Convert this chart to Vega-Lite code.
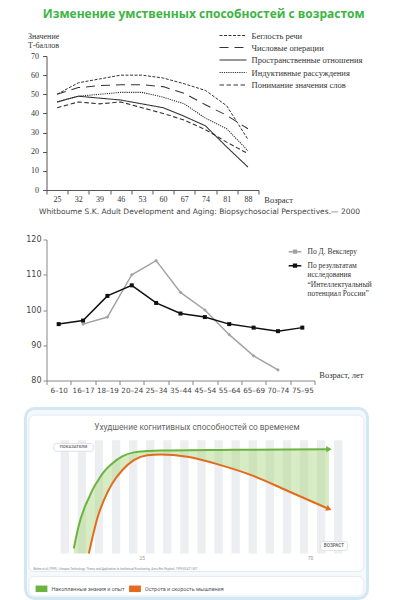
{
  "$schema": "https://vega.github.io/schema/vega-lite/v6.json",
  "padding": {"left": 23.5, "top": 8, "right": 0, "bottom": 0},
  "autosize": {"type": "pad"},
  "background": "white",
  "title": {"text": "Изменение умственных способностей с возрастом", "font": "Open Sans", "fontSize": 12, "fontWeight": "bold", "color": "#3db543", "anchor": "middle", "dx": 5.5, "offset": 9},
  "config": {"view": {"stroke": null}, "axis": {"grid": false}},
  "spacing": 12.5,
  "resolve": {"scale": {"color": "independent", "strokeDash": "independent", "strokeWidth": "independent"}, "legend": {"color": "independent", "strokeDash": "independent", "strokeWidth": "independent"}},
  "vconcat": [
    {
      "spacing": 19.5,
      "resolve": {"scale": {"color": "independent", "strokeDash": "independent", "strokeWidth": "independent"}, "legend": {"color": "independent", "strokeDash": "independent", "strokeWidth": "independent"}},
      "vconcat": [
        {
          "width": 212,
          "height": 134,
          "data": {"values": [
            {"age": "25", "series": "Беглость речи", "t": 50},
            {"age": "32", "series": "Беглость речи", "t": 56},
            {"age": "39", "series": "Беглость речи", "t": 58},
            {"age": "46", "series": "Беглость речи", "t": 60},
            {"age": "53", "series": "Беглость речи", "t": 60},
            {"age": "60", "series": "Беглость речи", "t": 58.5},
            {"age": "67", "series": "Беглость речи", "t": 55.5},
            {"age": "74", "series": "Беглость речи", "t": 52},
            {"age": "81", "series": "Беглость речи", "t": 44},
            {"age": "88", "series": "Беглость речи", "t": 26.5},
            {"age": "25", "series": "Числовые операции", "t": 50},
            {"age": "32", "series": "Числовые операции", "t": 53.5},
            {"age": "39", "series": "Числовые операции", "t": 54.5},
            {"age": "46", "series": "Числовые операции", "t": 55},
            {"age": "53", "series": "Числовые операции", "t": 55},
            {"age": "60", "series": "Числовые операции", "t": 54},
            {"age": "67", "series": "Числовые операции", "t": 50.5},
            {"age": "74", "series": "Числовые операции", "t": 44.5},
            {"age": "81", "series": "Числовые операции", "t": 39},
            {"age": "88", "series": "Числовые операции", "t": 32},
            {"age": "25", "series": "Пространственные отношения", "t": 46},
            {"age": "32", "series": "Пространственные отношения", "t": 49},
            {"age": "39", "series": "Пространственные отношения", "t": 48},
            {"age": "46", "series": "Пространственные отношения", "t": 47},
            {"age": "53", "series": "Пространственные отношения", "t": 45},
            {"age": "60", "series": "Пространственные отношения", "t": 43},
            {"age": "67", "series": "Пространственные отношения", "t": 38.5},
            {"age": "74", "series": "Пространственные отношения", "t": 33.5},
            {"age": "81", "series": "Пространственные отношения", "t": 22.5},
            {"age": "88", "series": "Пространственные отношения", "t": 12},
            {"age": "25", "series": "Индуктивные рассуждения", "t": 46},
            {"age": "32", "series": "Индуктивные рассуждения", "t": 49},
            {"age": "39", "series": "Индуктивные рассуждения", "t": 50},
            {"age": "46", "series": "Индуктивные рассуждения", "t": 51},
            {"age": "53", "series": "Индуктивные рассуждения", "t": 51},
            {"age": "60", "series": "Индуктивные рассуждения", "t": 48.5},
            {"age": "67", "series": "Индуктивные рассуждения", "t": 45},
            {"age": "74", "series": "Индуктивные рассуждения", "t": 37.5},
            {"age": "81", "series": "Индуктивные рассуждения", "t": 32},
            {"age": "88", "series": "Индуктивные рассуждения", "t": 20.5},
            {"age": "25", "series": "Понимание значения слов", "t": 43},
            {"age": "32", "series": "Понимание значения слов", "t": 46},
            {"age": "39", "series": "Понимание значения слов", "t": 45},
            {"age": "46", "series": "Понимание значения слов", "t": 46},
            {"age": "53", "series": "Понимание значения слов", "t": 43},
            {"age": "60", "series": "Понимание значения слов", "t": 40},
            {"age": "67", "series": "Понимание значения слов", "t": 36.5},
            {"age": "74", "series": "Понимание значения слов", "t": 31.5},
            {"age": "81", "series": "Понимание значения слов", "t": 25},
            {"age": "88", "series": "Понимание значения слов", "t": 19}
          ]},
          "title": {"text": "Whitboume S.K. Adult Development and Aging: Biopsychosocial Perspectives.— 2000", "orient": "bottom", "anchor": "middle", "frame": "group", "dx": 47, "offset": 4, "font": "DejaVu Sans", "fontSize": 7.5, "fontWeight": "normal", "color": "#444"},
          "mark": {"type": "line", "color": "#333"},
          "encoding": {
            "x": {"field": "age", "type": "ordinal", "bandPosition": 0.5,
              "scale": {"type": "band", "domain": ["25","32","39","46","53","60","67","74","81","88"], "paddingInner": 0, "paddingOuter": 0},
              "axis": {"title": "Возраст", "titleX": 217.3, "titleY": 9.3, "titleAlign": "left", "titleBaseline": "middle", "titleFont": "Liberation Serif", "titleFontSize": 8.5, "titleFontWeight": "normal", "titleColor": "#333", "labelAngle": 0, "tickBand": "extent", "domainColor": "#555", "tickColor": "#555", "tickSize": 4, "labelFont": "Liberation Serif", "labelFontSize": 8, "labelColor": "#333", "labelPadding": 1}},
            "y": {"field": "t", "type": "quantitative", "scale": {"domain": [0, 70]},
              "axis": {"title": ["Значение", "Т-баллов"], "titleAngle": 0, "titleAlign": "left", "titleBaseline": "top", "titleX": -19, "titleY": -24, "titleFont": "Liberation Serif", "titleFontSize": 8, "titleFontWeight": "normal", "titleColor": "#333", "titleLineHeight": 9.5, "values": [0,10,20,30,40,50,60,70], "tickSize": 4, "labelPadding": 4, "labelFont": "Liberation Serif", "labelFontSize": 8, "labelColor": "#333", "domainColor": "#555", "tickColor": "#555"}},
            "strokeDash": {"field": "series", "type": "nominal",
              "scale": {"domain": ["Беглость речи", "Числовые операции", "Пространственные отношения", "Индуктивные рассуждения", "Понимание значения слов"], "range": [[3,1.5],[9,6],[1,0],[1.2,1],[4.5,2.5]]},
              "legend": {"orient": "none", "legendX": 189, "legendY": -26, "title": null, "padding": 0, "symbolType": "M-4.4,0H1", "symbolSize": 100, "symbolStrokeColor": "#333", "symbolStrokeWidth": 1.2, "labelFont": "Liberation Serif", "labelFontSize": 8.5, "labelColor": "#333", "labelOffset": 4, "rowPadding": 1.5}},
            "strokeWidth": {"field": "series", "type": "nominal",
              "scale": {"domain": ["Беглость речи", "Числовые операции", "Пространственные отношения", "Индуктивные рассуждения", "Понимание значения слов"], "range": [1, 1.1, 1.1, 1.5, 1]}, "legend": null}
          }
        },
        {
          "width": 268,
          "height": 141,
          "data": {"values": [
            {"age": "16–17", "src": "По Д. Векслеру", "iq": 96},
            {"age": "18–19", "src": "По Д. Векслеру", "iq": 98},
            {"age": "20–24", "src": "По Д. Векслеру", "iq": 110},
            {"age": "25–34", "src": "По Д. Векслеру", "iq": 114},
            {"age": "35–44", "src": "По Д. Векслеру", "iq": 105},
            {"age": "45–54", "src": "По Д. Векслеру", "iq": 100},
            {"age": "55–64", "src": "По Д. Векслеру", "iq": 93},
            {"age": "65–69", "src": "По Д. Векслеру", "iq": 87},
            {"age": "70–74", "src": "По Д. Векслеру", "iq": 83},
            {"age": "6–10", "src": "По результатам исследования “Интеллектуальный потенциал России”", "iq": 96},
            {"age": "16–17", "src": "По результатам исследования “Интеллектуальный потенциал России”", "iq": 97},
            {"age": "18–19", "src": "По результатам исследования “Интеллектуальный потенциал России”", "iq": 104},
            {"age": "20–24", "src": "По результатам исследования “Интеллектуальный потенциал России”", "iq": 107},
            {"age": "25–34", "src": "По результатам исследования “Интеллектуальный потенциал России”", "iq": 102},
            {"age": "35–44", "src": "По результатам исследования “Интеллектуальный потенциал России”", "iq": 99},
            {"age": "45–54", "src": "По результатам исследования “Интеллектуальный потенциал России”", "iq": 98},
            {"age": "55–64", "src": "По результатам исследования “Интеллектуальный потенциал России”", "iq": 96},
            {"age": "65–69", "src": "По результатам исследования “Интеллектуальный потенциал России”", "iq": 95},
            {"age": "70–74", "src": "По результатам исследования “Интеллектуальный потенциал России”", "iq": 94},
            {"age": "75–95", "src": "По результатам исследования “Интеллектуальный потенциал России”", "iq": 95}
          ]},
          "encoding": {
            "x": {"field": "age", "type": "ordinal", "bandPosition": 0.5,
              "scale": {"type": "band", "domain": ["6–10","16–17","18–19","20–24","25–34","35–44","45–54","55–64","65–69","70–74","75–95"], "paddingInner": 0, "paddingOuter": 0},
              "axis": {"title": "Возраст, лет", "titleX": 272.3, "titleY": -5.7, "titleAlign": "left", "titleBaseline": "middle", "titleFont": "Liberation Serif", "titleFontSize": 8.5, "titleFontWeight": "normal", "titleColor": "#333", "labelAngle": 0, "tickBand": "extent", "labelFont": "DejaVu Sans", "labelFontSize": 7.2, "labelColor": "#444", "tickSize": 4, "labelPadding": 2, "domainColor": "#888", "tickColor": "#888"}},
            "y": {"field": "iq", "type": "quantitative", "scale": {"domain": [80, 120]},
              "axis": {"title": null, "values": [80,90,100,110,120], "tickSize": 3.5, "labelPadding": 2, "labelFont": "DejaVu Sans", "labelFontSize": 8, "labelColor": "#444", "domainColor": "#888", "tickColor": "#888"}},
            "color": {"field": "src", "type": "nominal",
              "scale": {"domain": ["По Д. Векслеру", "По результатам исследования “Интеллектуальный потенциал России”"], "range": ["#a3a3a3", "#111111"]},
              "legend": {"orient": "none", "legendX": 241, "legendY": 4.7, "title": null, "padding": 0, "symbolType": "M-1,0H1M-0.22,-0.22H0.22V0.22H-0.22Z", "symbolSize": 160, "symbolStrokeWidth": 1.5, "labelFont": "Liberation Serif", "labelFontSize": 7.5, "labelColor": "#333", "labelOffset": 5, "rowPadding": 2,
                "labelExpr": "indexof(datum.label, 'Векслер') >= 0 ? datum.label : ['По результатам', 'исследования', '“Интеллектуальный', 'потенциал России”']"}}
          },
          "layer": [
            {"mark": {"type": "line", "strokeWidth": 1.5}},
            {"transform": [{"filter": "indexof(datum.src, 'Векслер') >= 0"}],
             "mark": {"type": "point", "shape": "diamond", "filled": true, "opacity": 1, "size": 14}},
            {"transform": [{"filter": "indexof(datum.src, 'Векслер') < 0"}],
             "mark": {"type": "point", "shape": "square", "filled": true, "opacity": 1, "size": 16}}
          ]
        }
      ]
    },
    {
      "width": 321,
      "height": 190,
      "data": {"values": [
        {"age": 6.71, "know": 26.3, "speed": 23.7},
        {"age": 8.05, "know": 38.6, "speed": 23.7},
        {"age": 9.84, "know": 49.1, "speed": 23.7},
        {"age": 10.72, "know": 52.9, "speed": 23.7},
        {"age": 11.63, "know": 56.9, "speed": 31.6},
        {"age": 12.97, "know": 61.5, "speed": 42.1},
        {"age": 14.73, "know": 66.7, "speed": 51.7},
        {"age": 16.98, "know": 71.1, "speed": 60.5},
        {"age": 19.65, "know": 74.8, "speed": 67.5},
        {"age": 22.75, "know": 76.9, "speed": 72.8},
        {"age": 26.34, "know": 77.6, "speed": 75.4},
        {"age": 29.89, "know": 77.9, "speed": 75.8},
        {"age": 37.03, "know": 78.0, "speed": 74.6},
        {"age": 45.94, "know": 78.2, "speed": 70.2},
        {"age": 54.84, "know": 78.3, "speed": 64.4},
        {"age": 63.77, "know": 78.4, "speed": 56.7},
        {"age": 74.89, "know": 78.6, "speed": 47.1}
      ]},
      "layer": [
        {"data": {"values": [{}]},
         "mark": {"type": "rect", "fill": "#f5f9fc", "stroke": "#d4e8f4", "strokeWidth": 3, "cornerRadius": 9},
         "encoding": {
           "x": {"datum": -6.2, "type": "quantitative", "scale": {"domain": [-0.59, 85.2], "nice": false, "zero": false}, "axis": null},
           "x2": {"datum": 85.2},
           "y": {"datum": 100, "type": "quantitative", "scale": {"domain": [0, 100], "nice": false, "zero": false}, "axis": null},
           "y2": {"datum": 0}}},
        {"data": {"values": [{}]},
         "mark": {"type": "rect", "fill": "#ffffff", "stroke": "#e2ecf3", "strokeWidth": 1, "cornerRadius": 6},
         "encoding": {"x": {"datum": -5.3, "type": "quantitative"}, "x2": {"datum": 84.2}, "y": {"datum": 96.5, "type": "quantitative"}, "y2": {"datum": 14.2}}},
        {"data": {"values": [{}]},
         "mark": {"type": "rect", "fill": "#ffffff", "stroke": "#e2ecf3", "strokeWidth": 1, "cornerRadius": 6},
         "encoding": {"x": {"datum": -5.3, "type": "quantitative"}, "x2": {"datum": 84.2}, "y": {"datum": 11.6, "type": "quantitative"}, "y2": {"datum": 1.3}}},
        {"data": {"values": [{"age": 4.3},{"age": 8.87},{"age": 13.43},{"age": 18.0},{"age": 22.57},{"age": 27.13},{"age": 31.7},{"age": 36.27},{"age": 40.83},{"age": 45.4},{"age": 49.97},{"age": 54.53},{"age": 59.1},{"age": 63.67},{"age": 68.23},{"age": 72.8},{"age": 77.37}]},
         "mark": {"type": "rule", "strokeWidth": 8.3, "color": "#eceef1"},
         "encoding": {"x": {"field": "age", "type": "quantitative"}, "y": {"datum": 23.7, "type": "quantitative"}, "y2": {"datum": 83.3}}},
        {"mark": {"type": "area", "color": "#a8d47a", "opacity": 0.45, "interpolate": "monotone"},
         "encoding": {"x": {"field": "age", "type": "quantitative"}, "y": {"field": "know", "type": "quantitative"}, "y2": {"field": "speed"}}},
        {"mark": {"type": "line", "color": "#6bb43f", "strokeWidth": 2, "interpolate": "monotone"},
         "encoding": {"x": {"field": "age", "type": "quantitative"}, "y": {"field": "know", "type": "quantitative"}}},
        {"transform": [{"filter": "datum.age >= 10.7"}],
         "mark": {"type": "line", "color": "#e36b1e", "strokeWidth": 2, "interpolate": "monotone"},
         "encoding": {"x": {"field": "age", "type": "quantitative"}, "y": {"field": "speed", "type": "quantitative"}}},
        {"transform": [{"filter": "datum.age > 74"}],
         "mark": {"type": "point", "shape": "triangle-right", "filled": true, "opacity": 1, "size": 40},
         "encoding": {"x": {"field": "age", "type": "quantitative"}, "y": {"field": "know", "type": "quantitative"},
           "color": {"datum": "Накопленные знания и опыт", "type": "nominal",
             "scale": {"domain": ["Накопленные знания и опыт", "Острота и скорость мышления"], "range": ["#6bb43f", "#e36b1e"]},
             "legend": {"orient": "none", "legendX": -11, "legendY": 174, "direction": "horizontal", "title": null, "padding": 0, "symbolType": "M-1,-0.55H1V0.55H-1Z", "symbolSize": 140, "symbolStrokeWidth": 0, "labelFont": "Roboto", "labelFontSize": 5.4, "labelColor": "#555", "labelOffset": 4, "columnPadding": 3.5}}}},
        {"transform": [{"filter": "datum.age > 74"}],
         "mark": {"type": "point", "shape": "triangle-right", "filled": true, "opacity": 1, "size": 40, "angle": 24},
         "encoding": {"x": {"field": "age", "type": "quantitative"}, "y": {"field": "speed", "type": "quantitative"},
           "color": {"datum": "Острота и скорость мышления", "type": "nominal"}}},
        {"data": {"values": [{}]},
         "mark": {"type": "rect", "fill": "#ffffff", "stroke": "#d5dadf", "strokeWidth": 0.8, "cornerRadius": 2},
         "encoding": {"x": {"datum": 1.37, "type": "quantitative"}, "x2": {"datum": 11.9}, "y": {"datum": 81.6, "type": "quantitative"}, "y2": {"datum": 77.5}}},
        {"data": {"values": [{}]},
         "mark": {"type": "rect", "fill": "#ffffff", "stroke": "#d5dadf", "strokeWidth": 0.8, "cornerRadius": 2},
         "encoding": {"x": {"datum": 72.67, "type": "quantitative"}, "x2": {"datum": 79.81}, "y": {"datum": 30, "type": "quantitative"}, "y2": {"datum": 25.3}}},
        {"data": {"values": [{}]},
         "mark": {"type": "text", "text": "ПОКАЗАТЕЛИ", "font": "Roboto", "fontSize": 4.2, "fontWeight": "bold", "color": "#777", "align": "center", "baseline": "middle"},
         "encoding": {"x": {"datum": 6.63, "type": "quantitative"}, "y": {"datum": 79.5, "type": "quantitative"}}},
        {"data": {"values": [{}]},
         "mark": {"type": "text", "text": "ВОЗРАСТ", "font": "Roboto", "fontSize": 4.6, "fontWeight": "bold", "color": "#777", "align": "center", "baseline": "middle"},
         "encoding": {"x": {"datum": 76.24, "type": "quantitative"}, "y": {"datum": 27.6, "type": "quantitative"}}},
        {"data": {"values": [{}]},
         "mark": {"type": "text", "text": "Ухудшение когнитивных способностей со временем", "font": "Roboto", "fontSize": 8.3, "color": "#666", "align": "center", "baseline": "middle"},
         "encoding": {"x": {"datum": 39.6, "type": "quantitative"}, "y": {"datum": 90, "type": "quantitative"}}},
        {"data": {"values": [{"age": 25, "label": "25"}, {"age": 70, "label": "70"}]},
         "mark": {"type": "text", "font": "Roboto", "fontSize": 4.8, "color": "#999", "align": "center", "baseline": "middle"},
         "encoding": {"x": {"field": "age", "type": "quantitative"}, "y": {"datum": 20.7, "type": "quantitative"}, "text": {"field": "label"}}},
        {"data": {"values": [{}]},
         "mark": {"type": "text", "text": "Baltes et al (1999). Lifespan Technology: Theory and Application to Intellectual Functioning. Annu Rev Psychol. 1999;50:471-507", "font": "Roboto", "fontSize": 2.9, "color": "#888", "align": "left", "baseline": "middle"},
         "encoding": {"x": {"datum": -4.06, "type": "quantitative"}, "y": {"datum": 15.8, "type": "quantitative"}}}
      ]
    }
  ]
}
